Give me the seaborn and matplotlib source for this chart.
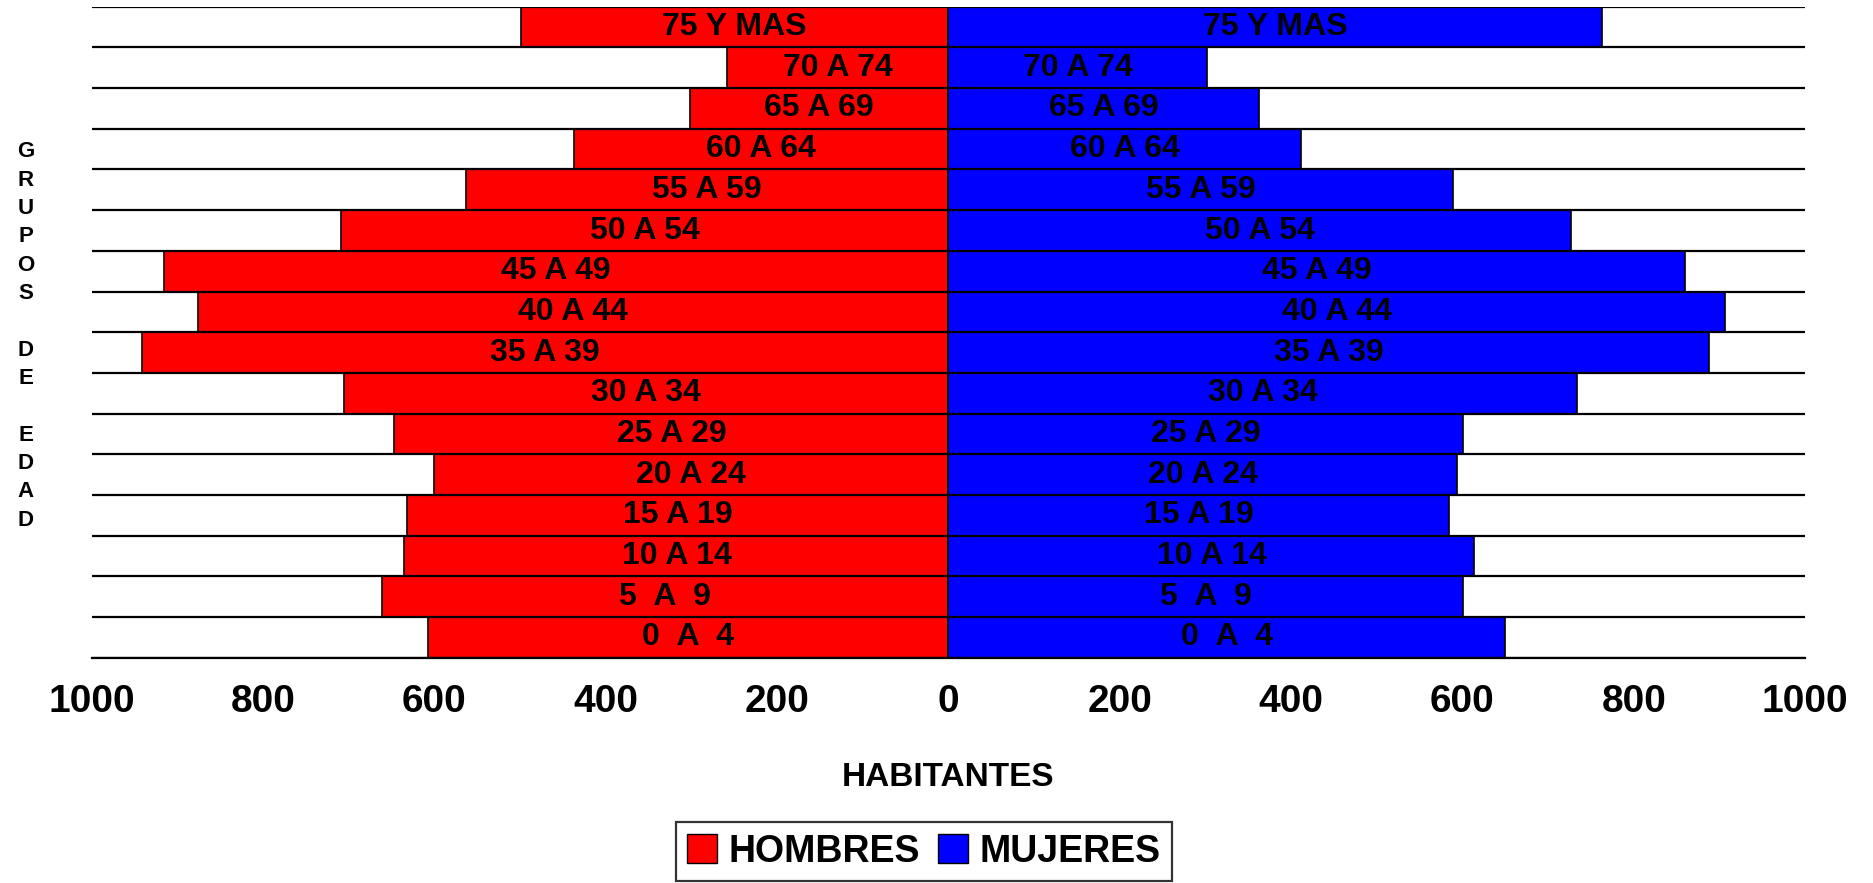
import matplotlib
matplotlib.use("Agg")
import matplotlib.pyplot as plt
from matplotlib.patches import Patch
import seaborn as sns

# ---- DATA ----
grupos = ["75 Y MAS", "70 A 74", "65 A 69", "60 A 64", "55 A 59", "50 A 54",
          "45 A 49", "40 A 44", "35 A 39", "30 A 34", "25 A 29", "20 A 24",
          "15 A 19", "10 A 14", "5  A  9", "0  A  4"]
hombres = [499, 259, 302, 437, 563, 709, 916, 876, 942, 706, 647, 601, 632, 635, 661, 607]
mujeres = [763, 302, 362, 412, 589, 727, 860, 906, 888, 734, 601, 594, 584, 614, 601, 650]
ticks = [-1000, -800, -600, -400, -200, 0, 200, 400, 600, 800, 1000]
tick_labels = ["1000", "800", "600", "400", "200", "0", "200", "400", "600", "800", "1000"]

sns.set_style("white")
plt.rcParams['font.family'] = ['Liberation Sans', 'DejaVu Sans']
plt.rcParams['font.weight'] = 'bold'
plt.rcParams['text.color'] = 'black'
plt.rcParams['axes.labelcolor'] = 'black'
plt.rcParams['xtick.color'] = 'black'

fig = plt.figure(figsize=(18.74, 8.83), dpi=100)
ax = fig.add_axes([0.049, 0.255, 0.9142, 0.7374])

# left side (men) and right side (women)
sns.barplot(x=[-v for v in hombres], y=grupos, orient="h", color="#ff0000",
            saturation=1, width=1.0, edgecolor="black", linewidth=1.2, ax=ax)
sns.barplot(x=mujeres, y=grupos, orient="h", color="#0000ff",
            saturation=1, width=1.0, edgecolor="black", linewidth=1.2, ax=ax)

# row separator lines across the full width
for i in range(len(grupos) + 1):
    ax.plot([-1000, 1000], [i - 0.5, i - 0.5], color="black", lw=1.6, zorder=3)

# group labels centred in every bar
for i, g in enumerate(grupos):
    ax.text(-hombres[i] / 2, i, g, ha="center", va="center", color="black",
            fontsize=23, fontweight="bold", zorder=4)
    ax.text(mujeres[i] / 2, i, g, ha="center", va="center", color="black",
            fontsize=23, fontweight="bold", zorder=4)

ax.set_xlim(-1000, 1000)
ax.set_ylim(len(grupos) - 0.5, -0.5)
ax.set_xticks(ticks)
ax.set_xticklabels(tick_labels, fontsize=28, fontweight="bold", color="black")
ax.tick_params(axis="x", direction="inout", length=14, width=1.6, color="black", pad=12)
ax.tick_params(axis="y", left=False, labelleft=False)
for s in ["top", "right", "left"]:
    ax.spines[s].set_visible(False)
ax.spines["bottom"].set_color("black")
ax.spines["bottom"].set_linewidth(1.6)
ax.set_ylabel("")
ax.set_xlabel("HABITANTES", fontsize=24, fontweight="bold", labelpad=30, color="black")

fig.text(26 / 1874, 0.6195, "G\nR\nU\nP\nO\nS\n\nD\nE\n\nE\nD\nA\nD",
         ha="center", va="center", fontsize=16, fontweight="bold", linespacing=1.46,
         color="black")

handles = [Patch(facecolor="#ff0000", edgecolor="black", label="HOMBRES"),
           Patch(facecolor="#0000ff", edgecolor="black", label="MUJERES")]
leg = fig.legend(handles=handles, loc="upper center", bbox_to_anchor=(0.493, 0.09),
                 ncol=2, prop={"weight": "bold", "size": 27},
                 frameon=True, fancybox=False, edgecolor="black",
                 handlelength=0.8, handleheight=0.8, handletextpad=0.3,
                 columnspacing=0.5, borderpad=0.3)
leg.get_frame().set_linewidth(1.6)
for t in leg.get_texts():
    t.set_color("black")

fig.savefig("out.png", dpi=100)
